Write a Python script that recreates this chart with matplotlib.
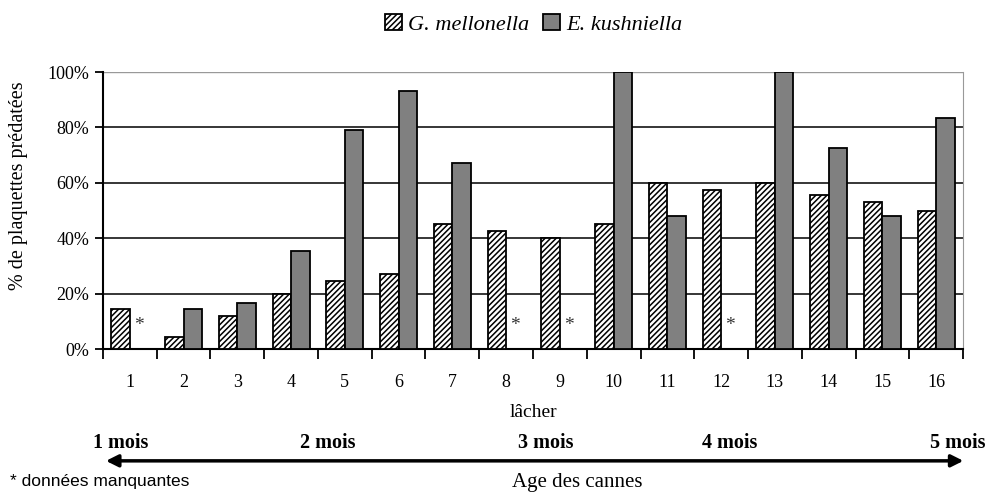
import matplotlib
matplotlib.use("Agg")
import matplotlib.pyplot as plt
import numpy as np

plt.rcParams["font.family"] = ["Liberation Serif", "DejaVu Serif"]
plt.rcParams["hatch.color"] = "#8a8a8a"
plt.rcParams["hatch.linewidth"] = 1.1

lachers = [str(i) for i in range(1, 17)]
mellonella = [14.5, 4.5, 12, 20, 24.5, 27, 45, 42.5, 40, 45, 60, 57.5, 60, 55.5, 53, 50]
# None = données manquantes
kushniella = [None, 14.5, 16.5, 35.5, 79, 93, 67, None, None, 100, 48, None, 100, 72.5, 48, 83.5]
age_labels = ["1 mois", "2 mois", "3 mois", "4 mois", "5 mois"]
age_pos = [0.122, 0.33, 0.55, 0.736, 0.965]

x = np.arange(1, len(lachers) + 1)
w = 0.345

fig = plt.figure(figsize=(9.92, 4.95), dpi=100)
ax = fig.add_axes([0.1038, 0.2949, 0.8670, 0.5596])

ax.bar(x - w / 2, mellonella, w, color="white", edgecolor="black", hatch="//////",
       linewidth=1.3, zorder=3, label="G. mellonella")
ek = [np.nan if v is None else v for v in kushniella]
ax.bar(x + w / 2, ek, w, color="#808080", edgecolor="black", linewidth=1.3,
       zorder=3, label="E. kushniella")
for xi, v in zip(x, kushniella):
    if v is None:
        ax.text(xi + w / 2, 8.5, "*", ha="center", va="center", fontsize=14,
                color="#333333")

ax.set_xlim(0.5, 16.5)
ax.set_ylim(0, 100)
ax.set_yticks(np.arange(0, 101, 20))
ax.set_yticklabels([f"{v}%" for v in range(0, 101, 20)], fontsize=13)
for v in range(20, 100, 20):
    ax.axhline(v, color="black", lw=1.1, zorder=1)
ax.axhline(100, color="#999999", lw=1.0, zorder=1)

ax.set_xticks(x)
ax.set_xticklabels(lachers, fontsize=13)
ax.tick_params(axis="x", which="major", length=0, pad=18)
ax.set_xticks(np.arange(0.5, 17, 1), minor=True)
ax.tick_params(axis="x", which="minor", length=7, width=1.3, direction="out")
ax.tick_params(axis="y", length=6, width=1.3, direction="out", pad=4)

ax.spines["top"].set_visible(False)
ax.spines["right"].set_color("#999999")
ax.spines["left"].set_linewidth(1.5)
ax.spines["bottom"].set_linewidth(1.5)

ax.set_ylabel("% de plaquettes prédatées", fontsize=14.5)
ax.yaxis.set_label_coords(-0.087, 0.59)
ax.set_xlabel("lâcher", fontsize=14)
ax.xaxis.set_label_coords(0.501, -0.20)

fig.legend(loc="center", bbox_to_anchor=(0.538, 0.951), ncol=2, frameon=False,
           prop={"style": "italic", "size": 16}, handlelength=0.75, handleheight=0.75,
           columnspacing=0.6, handletextpad=0.3)

# age des cannes
fig.add_artist(matplotlib.patches.FancyArrowPatch((0.104, 0.069), (0.974, 0.069),
               transform=fig.transFigure, arrowstyle="<|-|>", mutation_scale=18,
               color="black", lw=2.5))
for lab, px in zip(age_labels, age_pos):
    fig.text(px, 0.105, lab, ha="center", va="center", fontsize=14.5, fontweight="bold")
fig.text(0.582, 0.025, "Age des cannes", ha="center", va="center", fontsize=15)
fig.text(0.01, 0.027, "* données manquantes", ha="left", va="center", fontsize=12.5,
         family=["Liberation Sans", "DejaVu Sans"])

fig.savefig("out.png", dpi=100)
